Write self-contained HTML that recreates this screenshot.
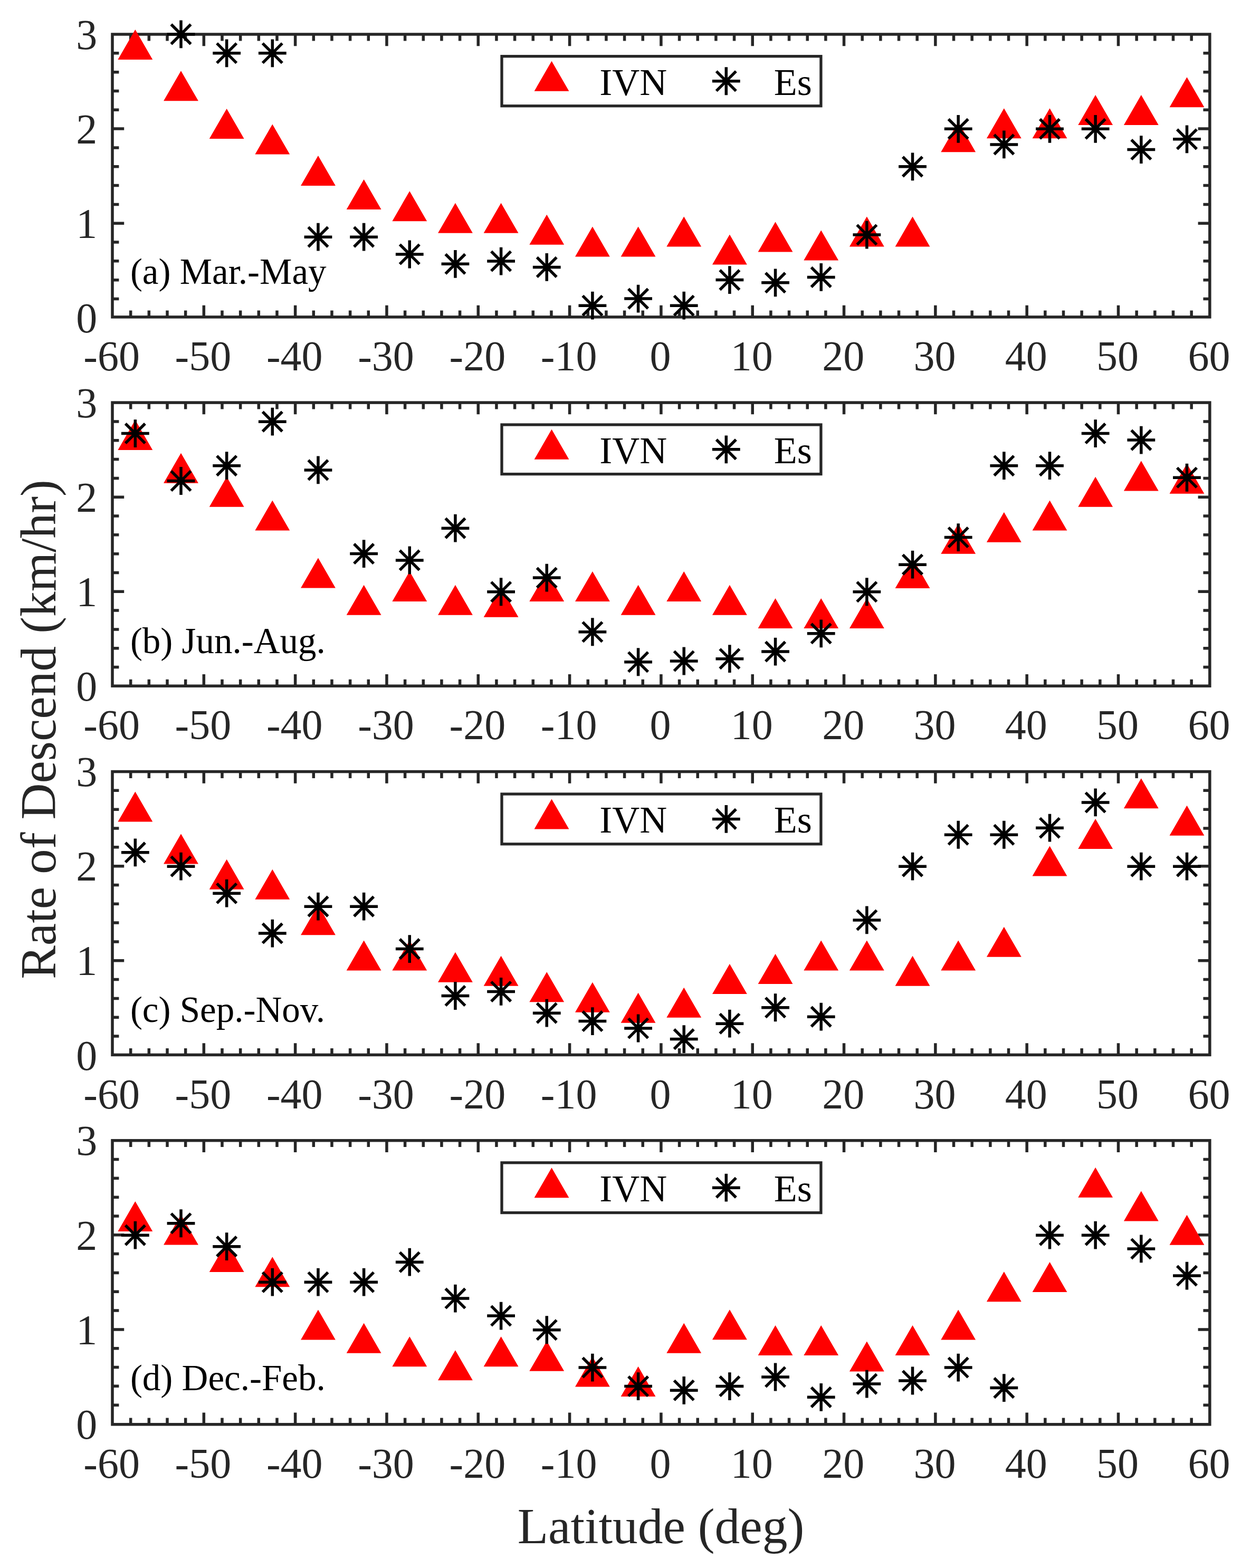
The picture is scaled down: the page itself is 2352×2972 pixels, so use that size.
<!DOCTYPE html>
<html><head><meta charset="utf-8"><title>Rate of Descend vs Latitude</title>
<style>
html,body{margin:0;padding:0;background:#fff;}
svg{display:block;}
text{font-family:"Liberation Serif","Times New Roman",serif;}
</style></head><body>
<svg width="2352" height="2972" viewBox="0 0 2352 2972">
<rect x="0" y="0" width="2352" height="2972" fill="#fff"/>
<g>
<path d="M247.66 600.9V588.5M247.66 65V77.4M282.33 600.9V588.5M282.33 65V77.4M316.99 600.9V588.5M316.99 65V77.4M351.65 600.9V588.5M351.65 65V77.4M386.32 600.9V578.7M386.32 65V87.2M420.98 600.9V588.5M420.98 65V77.4M455.64 600.9V588.5M455.64 65V77.4M490.31 600.9V588.5M490.31 65V77.4M524.97 600.9V588.5M524.97 65V77.4M559.63 600.9V578.7M559.63 65V87.2M594.3 600.9V588.5M594.3 65V77.4M628.96 600.9V588.5M628.96 65V77.4M663.62 600.9V588.5M663.62 65V77.4M698.29 600.9V588.5M698.29 65V77.4M732.95 600.9V578.7M732.95 65V87.2M767.61 600.9V588.5M767.61 65V77.4M802.28 600.9V588.5M802.28 65V77.4M836.94 600.9V588.5M836.94 65V77.4M871.6 600.9V588.5M871.6 65V77.4M906.27 600.9V578.7M906.27 65V87.2M940.93 600.9V588.5M940.93 65V77.4M975.59 600.9V588.5M975.59 65V77.4M1010.26 600.9V588.5M1010.26 65V77.4M1044.92 600.9V588.5M1044.92 65V77.4M1079.58 600.9V578.7M1079.58 65V87.2M1114.25 600.9V588.5M1114.25 65V77.4M1148.91 600.9V588.5M1148.91 65V77.4M1183.57 600.9V588.5M1183.57 65V77.4M1218.24 600.9V588.5M1218.24 65V77.4M1252.9 600.9V578.7M1252.9 65V87.2M1287.56 600.9V588.5M1287.56 65V77.4M1322.23 600.9V588.5M1322.23 65V77.4M1356.89 600.9V588.5M1356.89 65V77.4M1391.55 600.9V588.5M1391.55 65V77.4M1426.22 600.9V578.7M1426.22 65V87.2M1460.88 600.9V588.5M1460.88 65V77.4M1495.54 600.9V588.5M1495.54 65V77.4M1530.21 600.9V588.5M1530.21 65V77.4M1564.87 600.9V588.5M1564.87 65V77.4M1599.53 600.9V578.7M1599.53 65V87.2M1634.2 600.9V588.5M1634.2 65V77.4M1668.86 600.9V588.5M1668.86 65V77.4M1703.52 600.9V588.5M1703.52 65V77.4M1738.19 600.9V588.5M1738.19 65V77.4M1772.85 600.9V578.7M1772.85 65V87.2M1807.51 600.9V588.5M1807.51 65V77.4M1842.18 600.9V588.5M1842.18 65V77.4M1876.84 600.9V588.5M1876.84 65V77.4M1911.5 600.9V588.5M1911.5 65V77.4M1946.17 600.9V578.7M1946.17 65V87.2M1980.83 600.9V588.5M1980.83 65V77.4M2015.49 600.9V588.5M2015.49 65V77.4M2050.16 600.9V588.5M2050.16 65V77.4M2084.82 600.9V588.5M2084.82 65V77.4M2119.48 600.9V578.7M2119.48 65V87.2M2154.15 600.9V588.5M2154.15 65V77.4M2188.81 600.9V588.5M2188.81 65V77.4M2223.47 600.9V588.5M2223.47 65V77.4M2258.14 600.9V588.5M2258.14 65V77.4M213 566.48H225.4M2292.8 566.48H2280.4M213 530.66H225.4M2292.8 530.66H2280.4M213 494.84H225.4M2292.8 494.84H2280.4M213 459.02H225.4M2292.8 459.02H2280.4M213 423.2H235.2M2292.8 423.2H2270.6M213 387.38H225.4M2292.8 387.38H2280.4M213 351.56H225.4M2292.8 351.56H2280.4M213 315.74H225.4M2292.8 315.74H2280.4M213 279.92H225.4M2292.8 279.92H2280.4M213 244.1H235.2M2292.8 244.1H2270.6M213 208.28H225.4M2292.8 208.28H2280.4M213 172.46H225.4M2292.8 172.46H2280.4M213 136.64H225.4M2292.8 136.64H2280.4M213 100.82H225.4M2292.8 100.82H2280.4" stroke="#262626" stroke-width="5.5" fill="none"/>
<rect x="213" y="65" width="2079.8" height="535.9" fill="none" stroke="#262626" stroke-width="5.5"/>
<text x="211.6" y="702.1" font-size="80" fill="#262626" text-anchor="middle">-60</text>
<text x="384.92" y="702.1" font-size="80" fill="#262626" text-anchor="middle">-50</text>
<text x="558.23" y="702.1" font-size="80" fill="#262626" text-anchor="middle">-40</text>
<text x="731.55" y="702.1" font-size="80" fill="#262626" text-anchor="middle">-30</text>
<text x="904.87" y="702.1" font-size="80" fill="#262626" text-anchor="middle">-20</text>
<text x="1078.18" y="702.1" font-size="80" fill="#262626" text-anchor="middle">-10</text>
<text x="1251.5" y="702.1" font-size="80" fill="#262626" text-anchor="middle">0</text>
<text x="1424.82" y="702.1" font-size="80" fill="#262626" text-anchor="middle">10</text>
<text x="1598.13" y="702.1" font-size="80" fill="#262626" text-anchor="middle">20</text>
<text x="1771.45" y="702.1" font-size="80" fill="#262626" text-anchor="middle">30</text>
<text x="1944.77" y="702.1" font-size="80" fill="#262626" text-anchor="middle">40</text>
<text x="2118.08" y="702.1" font-size="80" fill="#262626" text-anchor="middle">50</text>
<text x="2291.4" y="702.1" font-size="80" fill="#262626" text-anchor="middle">60</text>
<text x="184.3" y="630" font-size="80" fill="#262626" text-anchor="end">0</text>
<text x="184.3" y="450.9" font-size="80" fill="#262626" text-anchor="end">1</text>
<text x="184.3" y="271.8" font-size="80" fill="#262626" text-anchor="end">2</text>
<text x="184.3" y="92.7" font-size="80" fill="#262626" text-anchor="end">3</text>
<text x="246.9" y="537.6" font-size="69" fill="#000">(a) Mar.-May</text>
<path fill="#ff0000" d="M256.33 55.92L289.24 112.92L223.42 112.92ZM342.99 134.13L375.9 191.13L310.08 191.13ZM429.65 205.89L462.55 262.89L396.74 262.89ZM516.3 235.49L549.21 292.49L483.4 292.49ZM602.96 295.05L635.87 352.05L570.05 352.05ZM689.62 340.08L722.53 397.08L656.71 397.08ZM776.28 362.14L809.19 419.14L743.37 419.14ZM862.94 384.75L895.85 441.75L830.03 441.75ZM949.6 384.75L982.5 441.75L916.69 441.75ZM1036.25 406.81L1069.16 463.81L1003.35 463.81ZM1122.91 429.6L1155.82 486.6L1090 486.6ZM1209.57 429.6L1242.48 486.6L1176.66 486.6ZM1296.23 410.58L1329.14 467.58L1263.32 467.58ZM1382.89 444.49L1415.8 501.49L1349.98 501.49ZM1469.55 420.45L1502.45 477.45L1436.64 477.45ZM1556.2 436.41L1589.11 493.41L1523.3 493.41ZM1642.86 410.58L1675.77 467.58L1609.95 467.58ZM1729.52 410.58L1762.43 467.58L1696.61 467.58ZM1816.18 231.19L1849.09 288.19L1783.27 288.19ZM1902.84 205.35L1935.75 262.35L1869.93 262.35ZM1989.5 205.35L2022.4 262.35L1956.59 262.35ZM2076.15 179.88L2109.06 236.88L2043.25 236.88ZM2162.81 179.88L2195.72 236.88L2129.9 236.88ZM2249.47 146.15L2282.38 203.15L2216.56 203.15Z"/>
<path fill="none" stroke="#000" stroke-width="5.5" d="M342.99 38.5V91.3M316.59 64.9H369.39M324.39 46.3L361.59 83.5M324.39 83.5L361.59 46.3M429.65 74.38V127.18M403.25 100.78H456.05M411.05 82.18L448.25 119.38M411.05 119.38L448.25 82.18M516.3 74.38V127.18M489.9 100.78H542.7M497.7 82.18L534.9 119.38M497.7 119.38L534.9 82.18M602.96 422.76V475.56M576.56 449.16H629.36M584.36 430.56L621.56 467.76M584.36 467.76L621.56 430.56M689.62 422.76V475.56M663.22 449.16H716.02M671.02 430.56L708.22 467.76M671.02 467.76L708.22 430.56M776.28 455.59V508.39M749.88 481.99H802.68M757.68 463.39L794.88 500.59M757.68 500.59L794.88 463.39M862.94 473.89V526.69M836.54 500.29H889.34M844.34 481.69L881.54 518.89M844.34 518.89L881.54 481.69M949.6 468.68V521.48M923.2 495.08H976M931 476.48L968.2 513.68M931 513.68L968.2 476.48M1036.25 479.99V532.79M1009.85 506.39H1062.65M1017.65 487.79L1054.85 524.99M1017.65 524.99L1054.85 487.79M1122.91 552.82V605.62M1096.51 579.22H1149.31M1104.31 560.62L1141.51 597.82M1104.31 597.82L1141.51 560.62M1209.57 539.72V592.52M1183.17 566.12H1235.97M1190.97 547.52L1228.17 584.72M1190.97 584.72L1228.17 547.52M1296.23 552.82V605.62M1269.83 579.22H1322.63M1277.63 560.62L1314.83 597.82M1277.63 597.82L1314.83 560.62M1382.89 504.2V557M1356.49 530.6H1409.29M1364.29 512L1401.49 549.2M1364.29 549.2L1401.49 512M1469.55 509.41V562.21M1443.15 535.81H1495.95M1450.95 517.21L1488.15 554.41M1450.95 554.41L1488.15 517.21M1556.2 499V551.8M1529.8 525.4H1582.6M1537.6 506.8L1574.8 544M1537.6 544L1574.8 506.8M1642.86 418.63V471.43M1616.46 445.03H1669.26M1624.26 426.43L1661.46 463.63M1624.26 463.63L1661.46 426.43M1729.52 289.47V342.27M1703.12 315.87H1755.92M1710.92 297.27L1748.12 334.47M1710.92 334.47L1748.12 297.27M1816.18 217.89V270.69M1789.78 244.29H1842.58M1797.58 225.69L1834.78 262.89M1797.58 262.89L1834.78 225.69M1902.84 247.49V300.29M1876.44 273.89H1929.24M1884.24 255.29L1921.44 292.49M1884.24 292.49L1921.44 255.29M1989.5 217.89V270.69M1963.1 244.29H2015.9M1970.9 225.69L2008.1 262.89M1970.9 262.89L2008.1 225.69M2076.15 217.89V270.69M2049.75 244.29H2102.55M2057.55 225.69L2094.75 262.89M2057.55 262.89L2094.75 225.69M2162.81 257.18V309.98M2136.41 283.58H2189.21M2144.21 264.98L2181.41 302.18M2144.21 302.18L2181.41 264.98M2249.47 237.45V290.25M2223.07 263.85H2275.87M2230.87 245.25L2268.07 282.45M2230.87 282.45L2268.07 245.25"/>
<rect x="951" y="106.7" width="604.9" height="94.1" fill="#fff" stroke="#262626" stroke-width="5.3"/>
<path fill="#ff0000" d="M1045.5 115.75L1078.41 172.75L1012.59 172.75Z"/>
<path fill="none" stroke="#000" stroke-width="5.5" d="M1376.3 127.35V180.15M1349.9 153.75H1402.7M1357.7 135.15L1394.9 172.35M1357.7 172.35L1394.9 135.15"/>
<text x="1136.2" y="179.75" font-size="72" fill="#000">IVN</text>
<text x="1466.7" y="179.75" font-size="72" fill="#000">Es</text>
</g>
<g>
<path d="M247.66 1300.2V1287.8M247.66 763.1V775.5M282.33 1300.2V1287.8M282.33 763.1V775.5M316.99 1300.2V1287.8M316.99 763.1V775.5M351.65 1300.2V1287.8M351.65 763.1V775.5M386.32 1300.2V1278M386.32 763.1V785.3M420.98 1300.2V1287.8M420.98 763.1V775.5M455.64 1300.2V1287.8M455.64 763.1V775.5M490.31 1300.2V1287.8M490.31 763.1V775.5M524.97 1300.2V1287.8M524.97 763.1V775.5M559.63 1300.2V1278M559.63 763.1V785.3M594.3 1300.2V1287.8M594.3 763.1V775.5M628.96 1300.2V1287.8M628.96 763.1V775.5M663.62 1300.2V1287.8M663.62 763.1V775.5M698.29 1300.2V1287.8M698.29 763.1V775.5M732.95 1300.2V1278M732.95 763.1V785.3M767.61 1300.2V1287.8M767.61 763.1V775.5M802.28 1300.2V1287.8M802.28 763.1V775.5M836.94 1300.2V1287.8M836.94 763.1V775.5M871.6 1300.2V1287.8M871.6 763.1V775.5M906.27 1300.2V1278M906.27 763.1V785.3M940.93 1300.2V1287.8M940.93 763.1V775.5M975.59 1300.2V1287.8M975.59 763.1V775.5M1010.26 1300.2V1287.8M1010.26 763.1V775.5M1044.92 1300.2V1287.8M1044.92 763.1V775.5M1079.58 1300.2V1278M1079.58 763.1V785.3M1114.25 1300.2V1287.8M1114.25 763.1V775.5M1148.91 1300.2V1287.8M1148.91 763.1V775.5M1183.57 1300.2V1287.8M1183.57 763.1V775.5M1218.24 1300.2V1287.8M1218.24 763.1V775.5M1252.9 1300.2V1278M1252.9 763.1V785.3M1287.56 1300.2V1287.8M1287.56 763.1V775.5M1322.23 1300.2V1287.8M1322.23 763.1V775.5M1356.89 1300.2V1287.8M1356.89 763.1V775.5M1391.55 1300.2V1287.8M1391.55 763.1V775.5M1426.22 1300.2V1278M1426.22 763.1V785.3M1460.88 1300.2V1287.8M1460.88 763.1V775.5M1495.54 1300.2V1287.8M1495.54 763.1V775.5M1530.21 1300.2V1287.8M1530.21 763.1V775.5M1564.87 1300.2V1287.8M1564.87 763.1V775.5M1599.53 1300.2V1278M1599.53 763.1V785.3M1634.2 1300.2V1287.8M1634.2 763.1V775.5M1668.86 1300.2V1287.8M1668.86 763.1V775.5M1703.52 1300.2V1287.8M1703.52 763.1V775.5M1738.19 1300.2V1287.8M1738.19 763.1V775.5M1772.85 1300.2V1278M1772.85 763.1V785.3M1807.51 1300.2V1287.8M1807.51 763.1V775.5M1842.18 1300.2V1287.8M1842.18 763.1V775.5M1876.84 1300.2V1287.8M1876.84 763.1V775.5M1911.5 1300.2V1287.8M1911.5 763.1V775.5M1946.17 1300.2V1278M1946.17 763.1V785.3M1980.83 1300.2V1287.8M1980.83 763.1V775.5M2015.49 1300.2V1287.8M2015.49 763.1V775.5M2050.16 1300.2V1287.8M2050.16 763.1V775.5M2084.82 1300.2V1287.8M2084.82 763.1V775.5M2119.48 1300.2V1278M2119.48 763.1V785.3M2154.15 1300.2V1287.8M2154.15 763.1V775.5M2188.81 1300.2V1287.8M2188.81 763.1V775.5M2223.47 1300.2V1287.8M2223.47 763.1V775.5M2258.14 1300.2V1287.8M2258.14 763.1V775.5M213 1264.58H225.4M2292.8 1264.58H2280.4M213 1228.76H225.4M2292.8 1228.76H2280.4M213 1192.94H225.4M2292.8 1192.94H2280.4M213 1157.12H225.4M2292.8 1157.12H2280.4M213 1121.3H235.2M2292.8 1121.3H2270.6M213 1085.48H225.4M2292.8 1085.48H2280.4M213 1049.66H225.4M2292.8 1049.66H2280.4M213 1013.84H225.4M2292.8 1013.84H2280.4M213 978.02H225.4M2292.8 978.02H2280.4M213 942.2H235.2M2292.8 942.2H2270.6M213 906.38H225.4M2292.8 906.38H2280.4M213 870.56H225.4M2292.8 870.56H2280.4M213 834.74H225.4M2292.8 834.74H2280.4M213 798.92H225.4M2292.8 798.92H2280.4" stroke="#262626" stroke-width="5.5" fill="none"/>
<rect x="213" y="763.1" width="2079.8" height="537.1" fill="none" stroke="#262626" stroke-width="5.5"/>
<text x="211.6" y="1401.4" font-size="80" fill="#262626" text-anchor="middle">-60</text>
<text x="384.92" y="1401.4" font-size="80" fill="#262626" text-anchor="middle">-50</text>
<text x="558.23" y="1401.4" font-size="80" fill="#262626" text-anchor="middle">-40</text>
<text x="731.55" y="1401.4" font-size="80" fill="#262626" text-anchor="middle">-30</text>
<text x="904.87" y="1401.4" font-size="80" fill="#262626" text-anchor="middle">-20</text>
<text x="1078.18" y="1401.4" font-size="80" fill="#262626" text-anchor="middle">-10</text>
<text x="1251.5" y="1401.4" font-size="80" fill="#262626" text-anchor="middle">0</text>
<text x="1424.82" y="1401.4" font-size="80" fill="#262626" text-anchor="middle">10</text>
<text x="1598.13" y="1401.4" font-size="80" fill="#262626" text-anchor="middle">20</text>
<text x="1771.45" y="1401.4" font-size="80" fill="#262626" text-anchor="middle">30</text>
<text x="1944.77" y="1401.4" font-size="80" fill="#262626" text-anchor="middle">40</text>
<text x="2118.08" y="1401.4" font-size="80" fill="#262626" text-anchor="middle">50</text>
<text x="2291.4" y="1401.4" font-size="80" fill="#262626" text-anchor="middle">60</text>
<text x="184.3" y="1328.1" font-size="80" fill="#262626" text-anchor="end">0</text>
<text x="184.3" y="1149" font-size="80" fill="#262626" text-anchor="end">1</text>
<text x="184.3" y="969.9" font-size="80" fill="#262626" text-anchor="end">2</text>
<text x="184.3" y="790.8" font-size="80" fill="#262626" text-anchor="end">3</text>
<text x="246.9" y="1237.6" font-size="69" fill="#000">(b) Jun.-Aug.</text>
<path fill="#ff0000" d="M256.33 796.05L289.24 853.05L223.42 853.05ZM342.99 858.78L375.9 915.78L310.08 915.78ZM429.65 903.77L462.55 960.77L396.74 960.77ZM516.3 948.41L549.21 1005.41L483.4 1005.41ZM602.96 1057.56L635.87 1114.56L570.05 1114.56ZM689.62 1108.65L722.53 1165.65L656.71 1165.65ZM776.28 1083.02L809.19 1140.02L743.37 1140.02ZM862.94 1108.65L895.85 1165.65L830.03 1165.65ZM949.6 1112.77L982.5 1169.77L916.69 1169.77ZM1036.25 1083.02L1069.16 1140.02L1003.35 1140.02ZM1122.91 1083.02L1155.82 1140.02L1090 1140.02ZM1209.57 1108.65L1242.48 1165.65L1176.66 1165.65ZM1296.23 1083.02L1329.14 1140.02L1263.32 1140.02ZM1382.89 1108.65L1415.8 1165.65L1349.98 1165.65ZM1469.55 1134.1L1502.45 1191.1L1436.64 1191.1ZM1556.2 1134.1L1589.11 1191.1L1523.3 1191.1ZM1642.86 1134.1L1675.77 1191.1L1609.95 1191.1ZM1729.52 1057.92L1762.43 1114.92L1696.61 1114.92ZM1816.18 992.86L1849.09 1049.86L1783.27 1049.86ZM1902.84 970.63L1935.75 1027.63L1869.93 1027.63ZM1989.5 948.41L2022.4 1005.41L1956.59 1005.41ZM2076.15 903.77L2109.06 960.77L2043.25 960.77ZM2162.81 873.48L2195.72 930.48L2129.9 930.48ZM2249.47 878.68L2282.38 935.68L2216.56 935.68Z"/>
<path fill="none" stroke="#000" stroke-width="5.5" d="M256.33 795.14V847.94M229.93 821.54H282.73M237.73 802.94L274.93 840.14M237.73 840.14L274.93 802.94M342.99 885.12V937.92M316.59 911.52H369.39M324.39 892.92L361.59 930.12M324.39 930.12L361.59 892.92M429.65 856.27V909.07M403.25 882.67H456.05M411.05 864.07L448.25 901.27M411.05 901.27L448.25 864.07M516.3 772.74V825.54M489.9 799.14H542.7M497.7 780.54L534.9 817.74M497.7 817.74L534.9 780.54M602.96 864.51V917.31M576.56 890.91H629.36M584.36 872.31L621.56 909.51M584.36 909.51L621.56 872.31M689.62 1023.14V1075.94M663.22 1049.54H716.02M671.02 1030.94L708.22 1068.14M671.02 1068.14L708.22 1030.94M776.28 1035.51V1088.31M749.88 1061.91H802.68M757.68 1043.31L794.88 1080.51M757.68 1080.51L794.88 1043.31M862.94 974.74V1027.54M836.54 1001.14H889.34M844.34 982.54L881.54 1019.74M844.34 1019.74L881.54 982.54M949.6 1095.37V1148.17M923.2 1121.77H976M931 1103.17L968.2 1140.37M931 1140.37L968.2 1103.17M1036.25 1068.67V1121.47M1009.85 1095.07H1062.65M1017.65 1076.47L1054.85 1113.67M1017.65 1113.67L1054.85 1076.47M1122.91 1171.37V1224.17M1096.51 1197.77H1149.31M1104.31 1179.17L1141.51 1216.37M1104.31 1216.37L1141.51 1179.17M1209.57 1228.37V1281.17M1183.17 1254.77H1235.97M1190.97 1236.17L1228.17 1273.37M1190.97 1273.37L1228.17 1236.17M1296.23 1226.58V1279.38M1269.83 1252.98H1322.63M1277.63 1234.38L1314.83 1271.58M1277.63 1271.58L1314.83 1234.38M1382.89 1222.28V1275.08M1356.49 1248.68H1409.29M1364.29 1230.08L1401.49 1267.28M1364.29 1267.28L1401.49 1230.08M1469.55 1208.66V1261.46M1443.15 1235.06H1495.95M1450.95 1216.46L1488.15 1253.66M1450.95 1253.66L1488.15 1216.46M1556.2 1174.42V1227.22M1529.8 1200.82H1582.6M1537.6 1182.22L1574.8 1219.42M1537.6 1219.42L1574.8 1182.22M1642.86 1095.37V1148.17M1616.46 1121.77H1669.26M1624.26 1103.17L1661.46 1140.37M1624.26 1140.37L1661.46 1103.17M1729.52 1043.75V1096.55M1703.12 1070.15H1755.92M1710.92 1051.55L1748.12 1088.75M1710.92 1088.75L1748.12 1051.55M1816.18 992.13V1044.93M1789.78 1018.53H1842.58M1797.58 999.93L1834.78 1037.13M1797.58 1037.13L1834.78 999.93M1902.84 856.27V909.07M1876.44 882.67H1929.24M1884.24 864.07L1921.44 901.27M1884.24 901.27L1921.44 864.07M1989.5 856.27V909.07M1963.1 882.67H2015.9M1970.9 864.07L2008.1 901.27M1970.9 901.27L2008.1 864.07M2076.15 795.14V847.94M2049.75 821.54H2102.55M2057.55 802.94L2094.75 840.14M2057.55 840.14L2094.75 802.94M2162.81 807.69V860.49M2136.41 834.09H2189.21M2144.21 815.49L2181.41 852.69M2144.21 852.69L2181.41 815.49M2249.47 878.85V931.65M2223.07 905.25H2275.87M2230.87 886.65L2268.07 923.85M2230.87 923.85L2268.07 886.65"/>
<rect x="951" y="805" width="604.9" height="93.6" fill="#fff" stroke="#262626" stroke-width="5.3"/>
<path fill="#ff0000" d="M1045.5 813.8L1078.41 870.8L1012.59 870.8Z"/>
<path fill="none" stroke="#000" stroke-width="5.5" d="M1376.3 825.4V878.2M1349.9 851.8H1402.7M1357.7 833.2L1394.9 870.4M1357.7 870.4L1394.9 833.2"/>
<text x="1136.2" y="877.8" font-size="72" fill="#000">IVN</text>
<text x="1466.7" y="877.8" font-size="72" fill="#000">Es</text>
</g>
<g>
<path d="M247.66 1999.4V1987M247.66 1462.55V1474.95M282.33 1999.4V1987M282.33 1462.55V1474.95M316.99 1999.4V1987M316.99 1462.55V1474.95M351.65 1999.4V1987M351.65 1462.55V1474.95M386.32 1999.4V1977.2M386.32 1462.55V1484.75M420.98 1999.4V1987M420.98 1462.55V1474.95M455.64 1999.4V1987M455.64 1462.55V1474.95M490.31 1999.4V1987M490.31 1462.55V1474.95M524.97 1999.4V1987M524.97 1462.55V1474.95M559.63 1999.4V1977.2M559.63 1462.55V1484.75M594.3 1999.4V1987M594.3 1462.55V1474.95M628.96 1999.4V1987M628.96 1462.55V1474.95M663.62 1999.4V1987M663.62 1462.55V1474.95M698.29 1999.4V1987M698.29 1462.55V1474.95M732.95 1999.4V1977.2M732.95 1462.55V1484.75M767.61 1999.4V1987M767.61 1462.55V1474.95M802.28 1999.4V1987M802.28 1462.55V1474.95M836.94 1999.4V1987M836.94 1462.55V1474.95M871.6 1999.4V1987M871.6 1462.55V1474.95M906.27 1999.4V1977.2M906.27 1462.55V1484.75M940.93 1999.4V1987M940.93 1462.55V1474.95M975.59 1999.4V1987M975.59 1462.55V1474.95M1010.26 1999.4V1987M1010.26 1462.55V1474.95M1044.92 1999.4V1987M1044.92 1462.55V1474.95M1079.58 1999.4V1977.2M1079.58 1462.55V1484.75M1114.25 1999.4V1987M1114.25 1462.55V1474.95M1148.91 1999.4V1987M1148.91 1462.55V1474.95M1183.57 1999.4V1987M1183.57 1462.55V1474.95M1218.24 1999.4V1987M1218.24 1462.55V1474.95M1252.9 1999.4V1977.2M1252.9 1462.55V1484.75M1287.56 1999.4V1987M1287.56 1462.55V1474.95M1322.23 1999.4V1987M1322.23 1462.55V1474.95M1356.89 1999.4V1987M1356.89 1462.55V1474.95M1391.55 1999.4V1987M1391.55 1462.55V1474.95M1426.22 1999.4V1977.2M1426.22 1462.55V1484.75M1460.88 1999.4V1987M1460.88 1462.55V1474.95M1495.54 1999.4V1987M1495.54 1462.55V1474.95M1530.21 1999.4V1987M1530.21 1462.55V1474.95M1564.87 1999.4V1987M1564.87 1462.55V1474.95M1599.53 1999.4V1977.2M1599.53 1462.55V1484.75M1634.2 1999.4V1987M1634.2 1462.55V1474.95M1668.86 1999.4V1987M1668.86 1462.55V1474.95M1703.52 1999.4V1987M1703.52 1462.55V1474.95M1738.19 1999.4V1987M1738.19 1462.55V1474.95M1772.85 1999.4V1977.2M1772.85 1462.55V1484.75M1807.51 1999.4V1987M1807.51 1462.55V1474.95M1842.18 1999.4V1987M1842.18 1462.55V1474.95M1876.84 1999.4V1987M1876.84 1462.55V1474.95M1911.5 1999.4V1987M1911.5 1462.55V1474.95M1946.17 1999.4V1977.2M1946.17 1462.55V1484.75M1980.83 1999.4V1987M1980.83 1462.55V1474.95M2015.49 1999.4V1987M2015.49 1462.55V1474.95M2050.16 1999.4V1987M2050.16 1462.55V1474.95M2084.82 1999.4V1987M2084.82 1462.55V1474.95M2119.48 1999.4V1977.2M2119.48 1462.55V1484.75M2154.15 1999.4V1987M2154.15 1462.55V1474.95M2188.81 1999.4V1987M2188.81 1462.55V1474.95M2223.47 1999.4V1987M2223.47 1462.55V1474.95M2258.14 1999.4V1987M2258.14 1462.55V1474.95M213 1964.03H225.4M2292.8 1964.03H2280.4M213 1928.21H225.4M2292.8 1928.21H2280.4M213 1892.39H225.4M2292.8 1892.39H2280.4M213 1856.57H225.4M2292.8 1856.57H2280.4M213 1820.75H235.2M2292.8 1820.75H2270.6M213 1784.93H225.4M2292.8 1784.93H2280.4M213 1749.11H225.4M2292.8 1749.11H2280.4M213 1713.29H225.4M2292.8 1713.29H2280.4M213 1677.47H225.4M2292.8 1677.47H2280.4M213 1641.65H235.2M2292.8 1641.65H2270.6M213 1605.83H225.4M2292.8 1605.83H2280.4M213 1570.01H225.4M2292.8 1570.01H2280.4M213 1534.19H225.4M2292.8 1534.19H2280.4M213 1498.37H225.4M2292.8 1498.37H2280.4" stroke="#262626" stroke-width="5.5" fill="none"/>
<rect x="213" y="1462.55" width="2079.8" height="536.85" fill="none" stroke="#262626" stroke-width="5.5"/>
<text x="211.6" y="2100.6" font-size="80" fill="#262626" text-anchor="middle">-60</text>
<text x="384.92" y="2100.6" font-size="80" fill="#262626" text-anchor="middle">-50</text>
<text x="558.23" y="2100.6" font-size="80" fill="#262626" text-anchor="middle">-40</text>
<text x="731.55" y="2100.6" font-size="80" fill="#262626" text-anchor="middle">-30</text>
<text x="904.87" y="2100.6" font-size="80" fill="#262626" text-anchor="middle">-20</text>
<text x="1078.18" y="2100.6" font-size="80" fill="#262626" text-anchor="middle">-10</text>
<text x="1251.5" y="2100.6" font-size="80" fill="#262626" text-anchor="middle">0</text>
<text x="1424.82" y="2100.6" font-size="80" fill="#262626" text-anchor="middle">10</text>
<text x="1598.13" y="2100.6" font-size="80" fill="#262626" text-anchor="middle">20</text>
<text x="1771.45" y="2100.6" font-size="80" fill="#262626" text-anchor="middle">30</text>
<text x="1944.77" y="2100.6" font-size="80" fill="#262626" text-anchor="middle">40</text>
<text x="2118.08" y="2100.6" font-size="80" fill="#262626" text-anchor="middle">50</text>
<text x="2291.4" y="2100.6" font-size="80" fill="#262626" text-anchor="middle">60</text>
<text x="184.3" y="2027.55" font-size="80" fill="#262626" text-anchor="end">0</text>
<text x="184.3" y="1848.45" font-size="80" fill="#262626" text-anchor="end">1</text>
<text x="184.3" y="1669.35" font-size="80" fill="#262626" text-anchor="end">2</text>
<text x="184.3" y="1490.25" font-size="80" fill="#262626" text-anchor="end">3</text>
<text x="246.9" y="1936.9" font-size="69" fill="#000">(c) Sep.-Nov.</text>
<path fill="#ff0000" d="M256.33 1500.5L289.24 1557.5L223.42 1557.5ZM342.99 1580.62L375.9 1637.62L310.08 1637.62ZM429.65 1628.65L462.55 1685.65L396.74 1685.65ZM516.3 1647.83L549.21 1704.83L483.4 1704.83ZM602.96 1715.23L635.87 1772.23L570.05 1772.23ZM689.62 1782.62L722.53 1839.62L656.71 1839.62ZM776.28 1782.62L809.19 1839.62L743.37 1839.62ZM862.94 1804.85L895.85 1861.85L830.03 1861.85ZM949.6 1811.84L982.5 1868.84L916.69 1868.84ZM1036.25 1842.31L1069.16 1899.31L1003.35 1899.31ZM1122.91 1861.67L1155.82 1918.67L1090 1918.67ZM1209.57 1881.74L1242.48 1938.74L1176.66 1938.74ZM1296.23 1871.71L1329.14 1928.71L1263.32 1928.71ZM1382.89 1827.08L1415.8 1884.08L1349.98 1884.08ZM1469.55 1807.9L1502.45 1864.9L1436.64 1864.9ZM1556.2 1782.62L1589.11 1839.62L1523.3 1839.62ZM1642.86 1782.62L1675.77 1839.62L1609.95 1839.62ZM1729.52 1811.84L1762.43 1868.84L1696.61 1868.84ZM1816.18 1782.62L1849.09 1839.62L1783.27 1839.62ZM1902.84 1756.81L1935.75 1813.81L1869.93 1813.81ZM1989.5 1603.38L2022.4 1660.38L1956.59 1660.38ZM2076.15 1552.12L2109.06 1609.12L2043.25 1609.12ZM2162.81 1475.22L2195.72 1532.22L2129.9 1532.22ZM2249.47 1526.85L2282.38 1583.85L2216.56 1583.85Z"/>
<path fill="none" stroke="#000" stroke-width="5.5" d="M256.33 1589.39V1642.19M229.93 1615.79H282.73M237.73 1597.19L274.93 1634.39M237.73 1634.39L274.93 1597.19M342.99 1615.74V1668.54M316.59 1642.14H369.39M324.39 1623.54L361.59 1660.74M324.39 1660.74L361.59 1623.54M429.65 1666.82V1719.62M403.25 1693.22H456.05M411.05 1674.62L448.25 1711.82M411.05 1711.82L448.25 1674.62M516.3 1742.64V1795.44M489.9 1769.04H542.7M497.7 1750.44L534.9 1787.64M497.7 1787.64L534.9 1750.44M602.96 1691.74V1744.54M576.56 1718.14H629.36M584.36 1699.54L621.56 1736.74M584.36 1736.74L621.56 1699.54M689.62 1691.74V1744.54M663.22 1718.14H716.02M671.02 1699.54L708.22 1736.74M671.02 1736.74L708.22 1699.54M776.28 1772.22V1825.02M749.88 1798.62H802.68M757.68 1780.02L794.88 1817.22M757.68 1817.22L794.88 1780.02M862.94 1861.12V1913.92M836.54 1887.52H889.34M844.34 1868.92L881.54 1906.12M844.34 1906.12L881.54 1868.92M949.6 1853.06V1905.86M923.2 1879.46H976M931 1860.86L968.2 1898.06M931 1898.06L968.2 1860.86M1036.25 1893.74V1946.54M1009.85 1920.14H1062.65M1017.65 1901.54L1054.85 1938.74M1017.65 1938.74L1054.85 1901.54M1122.91 1909.16V1961.96M1096.51 1935.56H1149.31M1104.31 1916.96L1141.51 1954.16M1104.31 1954.16L1141.51 1916.96M1209.57 1922.6V1975.4M1183.17 1949H1235.97M1190.97 1930.4L1228.17 1967.6M1190.97 1967.6L1228.17 1930.4M1296.23 1943.22V1996.02M1269.83 1969.62H1322.63M1277.63 1951.02L1314.83 1988.22M1277.63 1988.22L1314.83 1951.02M1382.89 1913.82V1966.62M1356.49 1940.22H1409.29M1364.29 1921.62L1401.49 1958.82M1364.29 1958.82L1401.49 1921.62M1469.55 1883.35V1936.15M1443.15 1909.75H1495.95M1450.95 1891.15L1488.15 1928.35M1450.95 1928.35L1488.15 1891.15M1556.2 1900.74V1953.54M1529.8 1927.14H1582.6M1537.6 1908.54L1574.8 1945.74M1537.6 1945.74L1574.8 1908.54M1642.86 1717.55V1770.35M1616.46 1743.95H1669.26M1624.26 1725.35L1661.46 1762.55M1624.26 1762.55L1661.46 1725.35M1729.52 1615.74V1668.54M1703.12 1642.14H1755.92M1710.92 1623.54L1748.12 1660.74M1710.92 1660.74L1748.12 1623.54M1816.18 1555.87V1608.67M1789.78 1582.27H1842.58M1797.58 1563.67L1834.78 1600.87M1797.58 1600.87L1834.78 1563.67M1902.84 1555.87V1608.67M1876.44 1582.27H1929.24M1884.24 1563.67L1921.44 1600.87M1884.24 1600.87L1921.44 1563.67M1989.5 1542.79V1595.59M1963.1 1569.19H2015.9M1970.9 1550.59L2008.1 1587.79M1970.9 1587.79L2008.1 1550.59M2076.15 1494.57V1547.37M2049.75 1520.97H2102.55M2057.55 1502.37L2094.75 1539.57M2057.55 1539.57L2094.75 1502.37M2162.81 1615.74V1668.54M2136.41 1642.14H2189.21M2144.21 1623.54L2181.41 1660.74M2144.21 1660.74L2181.41 1623.54M2249.47 1615.74V1668.54M2223.07 1642.14H2275.87M2230.87 1623.54L2268.07 1660.74M2230.87 1660.74L2268.07 1623.54"/>
<rect x="951" y="1505" width="604.9" height="94.8" fill="#fff" stroke="#262626" stroke-width="5.3"/>
<path fill="#ff0000" d="M1045.5 1514.4L1078.41 1571.4L1012.59 1571.4Z"/>
<path fill="none" stroke="#000" stroke-width="5.5" d="M1376.3 1526V1578.8M1349.9 1552.4H1402.7M1357.7 1533.8L1394.9 1571M1357.7 1571L1394.9 1533.8"/>
<text x="1136.2" y="1578.4" font-size="72" fill="#000">IVN</text>
<text x="1466.7" y="1578.4" font-size="72" fill="#000">Es</text>
</g>
<g>
<path d="M247.66 2699.8V2687.4M247.66 2161.7V2174.1M282.33 2699.8V2687.4M282.33 2161.7V2174.1M316.99 2699.8V2687.4M316.99 2161.7V2174.1M351.65 2699.8V2687.4M351.65 2161.7V2174.1M386.32 2699.8V2677.6M386.32 2161.7V2183.9M420.98 2699.8V2687.4M420.98 2161.7V2174.1M455.64 2699.8V2687.4M455.64 2161.7V2174.1M490.31 2699.8V2687.4M490.31 2161.7V2174.1M524.97 2699.8V2687.4M524.97 2161.7V2174.1M559.63 2699.8V2677.6M559.63 2161.7V2183.9M594.3 2699.8V2687.4M594.3 2161.7V2174.1M628.96 2699.8V2687.4M628.96 2161.7V2174.1M663.62 2699.8V2687.4M663.62 2161.7V2174.1M698.29 2699.8V2687.4M698.29 2161.7V2174.1M732.95 2699.8V2677.6M732.95 2161.7V2183.9M767.61 2699.8V2687.4M767.61 2161.7V2174.1M802.28 2699.8V2687.4M802.28 2161.7V2174.1M836.94 2699.8V2687.4M836.94 2161.7V2174.1M871.6 2699.8V2687.4M871.6 2161.7V2174.1M906.27 2699.8V2677.6M906.27 2161.7V2183.9M940.93 2699.8V2687.4M940.93 2161.7V2174.1M975.59 2699.8V2687.4M975.59 2161.7V2174.1M1010.26 2699.8V2687.4M1010.26 2161.7V2174.1M1044.92 2699.8V2687.4M1044.92 2161.7V2174.1M1079.58 2699.8V2677.6M1079.58 2161.7V2183.9M1114.25 2699.8V2687.4M1114.25 2161.7V2174.1M1148.91 2699.8V2687.4M1148.91 2161.7V2174.1M1183.57 2699.8V2687.4M1183.57 2161.7V2174.1M1218.24 2699.8V2687.4M1218.24 2161.7V2174.1M1252.9 2699.8V2677.6M1252.9 2161.7V2183.9M1287.56 2699.8V2687.4M1287.56 2161.7V2174.1M1322.23 2699.8V2687.4M1322.23 2161.7V2174.1M1356.89 2699.8V2687.4M1356.89 2161.7V2174.1M1391.55 2699.8V2687.4M1391.55 2161.7V2174.1M1426.22 2699.8V2677.6M1426.22 2161.7V2183.9M1460.88 2699.8V2687.4M1460.88 2161.7V2174.1M1495.54 2699.8V2687.4M1495.54 2161.7V2174.1M1530.21 2699.8V2687.4M1530.21 2161.7V2174.1M1564.87 2699.8V2687.4M1564.87 2161.7V2174.1M1599.53 2699.8V2677.6M1599.53 2161.7V2183.9M1634.2 2699.8V2687.4M1634.2 2161.7V2174.1M1668.86 2699.8V2687.4M1668.86 2161.7V2174.1M1703.52 2699.8V2687.4M1703.52 2161.7V2174.1M1738.19 2699.8V2687.4M1738.19 2161.7V2174.1M1772.85 2699.8V2677.6M1772.85 2161.7V2183.9M1807.51 2699.8V2687.4M1807.51 2161.7V2174.1M1842.18 2699.8V2687.4M1842.18 2161.7V2174.1M1876.84 2699.8V2687.4M1876.84 2161.7V2174.1M1911.5 2699.8V2687.4M1911.5 2161.7V2174.1M1946.17 2699.8V2677.6M1946.17 2161.7V2183.9M1980.83 2699.8V2687.4M1980.83 2161.7V2174.1M2015.49 2699.8V2687.4M2015.49 2161.7V2174.1M2050.16 2699.8V2687.4M2050.16 2161.7V2174.1M2084.82 2699.8V2687.4M2084.82 2161.7V2174.1M2119.48 2699.8V2677.6M2119.48 2161.7V2183.9M2154.15 2699.8V2687.4M2154.15 2161.7V2174.1M2188.81 2699.8V2687.4M2188.81 2161.7V2174.1M2223.47 2699.8V2687.4M2223.47 2161.7V2174.1M2258.14 2699.8V2687.4M2258.14 2161.7V2174.1M213 2663.18H225.4M2292.8 2663.18H2280.4M213 2627.36H225.4M2292.8 2627.36H2280.4M213 2591.54H225.4M2292.8 2591.54H2280.4M213 2555.72H225.4M2292.8 2555.72H2280.4M213 2519.9H235.2M2292.8 2519.9H2270.6M213 2484.08H225.4M2292.8 2484.08H2280.4M213 2448.26H225.4M2292.8 2448.26H2280.4M213 2412.44H225.4M2292.8 2412.44H2280.4M213 2376.62H225.4M2292.8 2376.62H2280.4M213 2340.8H235.2M2292.8 2340.8H2270.6M213 2304.98H225.4M2292.8 2304.98H2280.4M213 2269.16H225.4M2292.8 2269.16H2280.4M213 2233.34H225.4M2292.8 2233.34H2280.4M213 2197.52H225.4M2292.8 2197.52H2280.4" stroke="#262626" stroke-width="5.5" fill="none"/>
<rect x="213" y="2161.7" width="2079.8" height="538.1" fill="none" stroke="#262626" stroke-width="5.5"/>
<text x="211.6" y="2801" font-size="80" fill="#262626" text-anchor="middle">-60</text>
<text x="384.92" y="2801" font-size="80" fill="#262626" text-anchor="middle">-50</text>
<text x="558.23" y="2801" font-size="80" fill="#262626" text-anchor="middle">-40</text>
<text x="731.55" y="2801" font-size="80" fill="#262626" text-anchor="middle">-30</text>
<text x="904.87" y="2801" font-size="80" fill="#262626" text-anchor="middle">-20</text>
<text x="1078.18" y="2801" font-size="80" fill="#262626" text-anchor="middle">-10</text>
<text x="1251.5" y="2801" font-size="80" fill="#262626" text-anchor="middle">0</text>
<text x="1424.82" y="2801" font-size="80" fill="#262626" text-anchor="middle">10</text>
<text x="1598.13" y="2801" font-size="80" fill="#262626" text-anchor="middle">20</text>
<text x="1771.45" y="2801" font-size="80" fill="#262626" text-anchor="middle">30</text>
<text x="1944.77" y="2801" font-size="80" fill="#262626" text-anchor="middle">40</text>
<text x="2118.08" y="2801" font-size="80" fill="#262626" text-anchor="middle">50</text>
<text x="2291.4" y="2801" font-size="80" fill="#262626" text-anchor="middle">60</text>
<text x="184.3" y="2726.7" font-size="80" fill="#262626" text-anchor="end">0</text>
<text x="184.3" y="2547.6" font-size="80" fill="#262626" text-anchor="end">1</text>
<text x="184.3" y="2368.5" font-size="80" fill="#262626" text-anchor="end">2</text>
<text x="184.3" y="2189.4" font-size="80" fill="#262626" text-anchor="end">3</text>
<text x="246.9" y="2635.2" font-size="69" fill="#000">(d) Dec.-Feb.</text>
<path fill="#ff0000" d="M256.33 2276.93L289.24 2333.93L223.42 2333.93ZM342.99 2302.38L375.9 2359.38L310.08 2359.38ZM429.65 2354L462.55 2411L396.74 2411ZM516.3 2382.32L549.21 2439.32L483.4 2439.32ZM602.96 2482.52L635.87 2539.52L570.05 2539.52ZM689.62 2507.79L722.53 2564.79L656.71 2564.79ZM776.28 2533.25L809.19 2590.25L743.37 2590.25ZM862.94 2559.24L895.85 2616.24L830.03 2616.24ZM949.6 2533.25L982.5 2590.25L916.69 2590.25ZM1036.25 2541.85L1069.16 2598.85L1003.35 2598.85ZM1122.91 2571.6L1155.82 2628.6L1090 2628.6ZM1209.57 2589.89L1242.48 2646.89L1176.66 2646.89ZM1296.23 2507.79L1329.14 2564.79L1263.32 2564.79ZM1382.89 2482.34L1415.8 2539.34L1349.98 2539.34ZM1469.55 2512.09L1502.45 2569.09L1436.64 2569.09ZM1556.2 2512.09L1589.11 2569.09L1523.3 2569.09ZM1642.86 2542.39L1675.77 2599.39L1609.95 2599.39ZM1729.52 2512.09L1762.43 2569.09L1696.61 2569.09ZM1816.18 2482.52L1849.09 2539.52L1783.27 2539.52ZM1902.84 2410.29L1935.75 2467.29L1869.93 2467.29ZM1989.5 2392L2022.4 2449L1956.59 2449ZM2076.15 2212.76L2109.06 2269.76L2043.25 2269.76ZM2162.81 2257.39L2195.72 2314.39L2129.9 2314.39ZM2249.47 2302.74L2282.38 2359.74L2216.56 2359.74Z"/>
<path fill="none" stroke="#000" stroke-width="5.5" d="M256.33 2314.74V2367.54M229.93 2341.14H282.73M237.73 2322.54L274.93 2359.74M237.73 2359.74L274.93 2322.54M342.99 2292.34V2345.14M316.59 2318.74H369.39M324.39 2300.14L361.59 2337.34M324.39 2337.34L361.59 2300.14M429.65 2336.25V2389.05M403.25 2362.65H456.05M411.05 2344.05L448.25 2381.25M411.05 2381.25L448.25 2344.05M516.3 2403.82V2456.62M489.9 2430.22H542.7M497.7 2411.62L534.9 2448.82M497.7 2448.82L534.9 2411.62M602.96 2403.82V2456.62M576.56 2430.22H629.36M584.36 2411.62L621.56 2448.82M584.36 2448.82L621.56 2411.62M689.62 2403.82V2456.62M663.22 2430.22H716.02M671.02 2411.62L708.22 2448.82M671.02 2448.82L708.22 2411.62M776.28 2365.82V2418.62M749.88 2392.22H802.68M757.68 2373.62L794.88 2410.82M757.68 2410.82L794.88 2373.62M862.94 2434.65V2487.45M836.54 2461.05H889.34M844.34 2442.45L881.54 2479.65M844.34 2479.65L881.54 2442.45M949.6 2467.63V2520.43M923.2 2494.03H976M931 2475.43L968.2 2512.63M931 2512.63L968.2 2475.43M1036.25 2494.34V2547.14M1009.85 2520.74H1062.65M1017.65 2502.14L1054.85 2539.34M1017.65 2539.34L1054.85 2502.14M1122.91 2565.68V2618.48M1096.51 2592.08H1149.31M1104.31 2573.48L1141.51 2610.68M1104.31 2610.68L1141.51 2573.48M1209.57 2601.17V2653.97M1183.17 2627.57H1235.97M1190.97 2608.97L1228.17 2646.17M1190.97 2646.17L1228.17 2608.97M1296.23 2608.88V2661.68M1269.83 2635.28H1322.63M1277.63 2616.68L1314.83 2653.88M1277.63 2653.88L1314.83 2616.68M1382.89 2601.17V2653.97M1356.49 2627.57H1409.29M1364.29 2608.97L1401.49 2646.17M1364.29 2646.17L1401.49 2608.97M1469.55 2583.6V2636.4M1443.15 2610H1495.95M1450.95 2591.4L1488.15 2628.6M1450.95 2628.6L1488.15 2591.4M1556.2 2621.96V2674.76M1529.8 2648.36H1582.6M1537.6 2629.76L1574.8 2666.96M1537.6 2666.96L1574.8 2629.76M1642.86 2596.69V2649.49M1616.46 2623.09H1669.26M1624.26 2604.49L1661.46 2641.69M1624.26 2641.69L1661.46 2604.49M1729.52 2590.59V2643.39M1703.12 2616.99H1755.92M1710.92 2598.39L1748.12 2635.59M1710.92 2635.59L1748.12 2598.39M1816.18 2565.68V2618.48M1789.78 2592.08H1842.58M1797.58 2573.48L1834.78 2610.68M1797.58 2610.68L1834.78 2573.48M1902.84 2604.22V2657.02M1876.44 2630.62H1929.24M1884.24 2612.02L1921.44 2649.22M1884.24 2649.22L1921.44 2612.02M1989.5 2314.74V2367.54M1963.1 2341.14H2015.9M1970.9 2322.54L2008.1 2359.74M1970.9 2359.74L2008.1 2322.54M2076.15 2314.74V2367.54M2049.75 2341.14H2102.55M2057.55 2322.54L2094.75 2359.74M2057.55 2359.74L2094.75 2322.54M2162.81 2340.55V2393.35M2136.41 2366.95H2189.21M2144.21 2348.35L2181.41 2385.55M2144.21 2385.55L2181.41 2348.35M2249.47 2391.64V2444.44M2223.07 2418.04H2275.87M2230.87 2399.44L2268.07 2436.64M2230.87 2436.64L2268.07 2399.44"/>
<rect x="951" y="2203.8" width="604.9" height="94.8" fill="#fff" stroke="#262626" stroke-width="5.3"/>
<path fill="#ff0000" d="M1045.5 2213.2L1078.41 2270.2L1012.59 2270.2Z"/>
<path fill="none" stroke="#000" stroke-width="5.5" d="M1376.3 2224.8V2277.6M1349.9 2251.2H1402.7M1357.7 2232.6L1394.9 2269.8M1357.7 2269.8L1394.9 2232.6"/>
<text x="1136.2" y="2277.2" font-size="72" fill="#000">IVN</text>
<text x="1466.7" y="2277.2" font-size="72" fill="#000">Es</text>
</g>
<text x="1252.5" y="2925.3" font-size="95.5" fill="#262626" text-anchor="middle">Latitude (deg)</text>
<text transform="translate(104.8 1382.5) rotate(-90)" x="0" y="0" font-size="95.5" fill="#262626" text-anchor="middle">Rate of Descend (km/hr)</text>
</svg>
</body></html>
